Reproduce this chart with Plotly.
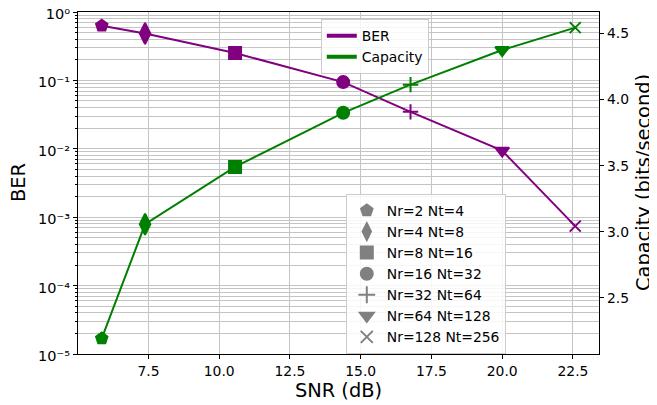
import numpy as np
import plotly.graph_objects as go

# ---- data ----
snr_db = [5.85, 7.38, 10.56, 14.38, 16.76, 20.0, 22.58]
ber = [0.63, 0.486, 0.251, 0.0944, 0.0347, 0.0094, 0.00074]
capacity = [2.192, 3.056, 3.49, 3.90, 4.113, 4.375, 4.545]
config_labels = ["Nr=2 Nt=4", "Nr=4 Nt=8", "Nr=8 Nt=16", "Nr=16 Nt=32",
                 "Nr=32 Nt=64", "Nr=64 Nt=128", "Nr=128 Nt=256"]
symbols = ["pentagon", "diamond-tall", "square", "circle",
           "cross-thin", "triangle-down", "x-thin"]
x_ticks = [7.5, 10.0, 12.5, 15.0, 17.5, 20.0, 22.5]
ber_major = [1e-5, 1e-4, 1e-3, 1e-2, 1e-1, 1e0]
ber_major_text = ["10⁻⁵", "10⁻⁴", "10⁻³", "10⁻²", "10⁻¹", "10⁰"]
cap_ticks = [2.5, 3.0, 3.5, 4.0, 4.5]

PURPLE = "#800080"
GREEN = "#008000"
GRAY = "#808080"
FONT = "DejaVu Sans"
GRID = "#c4c4c4"

minor_vals = [k * 10.0 ** e for e in range(-5, 0) for k in range(2, 10)]

thin = {"cross-thin", "x-thin"}
sizes = [12 if s not in thin else 11 for s in symbols]
sizes[1] = 15

fig = go.Figure()

fig.add_trace(go.Scatter(
    x=snr_db, y=ber, mode="lines+markers", yaxis="y",
    line=dict(color=PURPLE, width=2),
    marker=dict(symbol=symbols, size=sizes, color=PURPLE, opacity=1,
                line=dict(color=PURPLE, width=2)),
    showlegend=False))

fig.add_trace(go.Scatter(
    x=snr_db, y=capacity, mode="lines+markers", yaxis="y2",
    line=dict(color=GREEN, width=2),
    marker=dict(symbol=symbols, size=sizes, color=GREEN, opacity=1,
                line=dict(color=GREEN, width=2)),
    showlegend=False))

# legend 1: series lines
fig.add_trace(go.Scatter(x=[None], y=[None], mode="lines", name="BER",
                         line=dict(color=PURPLE, width=4), legend="legend"))
fig.add_trace(go.Scatter(x=[None], y=[None], mode="lines", name="Capacity",
                         line=dict(color=GREEN, width=4), legend="legend"))

# legend 2: configurations
for lab, sym in zip(config_labels, symbols):
    fig.add_trace(go.Scatter(
        x=[None], y=[None], mode="markers", name=lab, legend="legend2",
        marker=dict(symbol=sym, size=12, color=GRAY,
                    line=dict(color=GRAY, width=2))))

# page body has an 8px default margin, so the figure is offset by 8px
fig.update_layout(
    width=649, height=397,
    margin=dict(l=70, r=58, t=4, b=51, autoexpand=False),
    paper_bgcolor="white", plot_bgcolor="white",
    font=dict(family=FONT, size=13.9, color="black"),
    xaxis=dict(
        range=[5.01, 23.42], tickvals=x_ticks, tickformat=".1f",
        showgrid=True, gridcolor=GRID, gridwidth=1,
        showline=True, linecolor="black", linewidth=1.2, mirror=True,
        ticks="outside", ticklen=4, tickcolor="black",
        tickfont=dict(size=13.9), automargin=False,
        ticklabeloverflow="allow",
        title=dict(text="SNR (dB)", font=dict(size=19.4), standoff=4),
        zeroline=False),
    yaxis=dict(
        type="log", range=[-5, 0], tickvals=ber_major, ticktext=ber_major_text,
        showgrid=True, gridcolor=GRID, gridwidth=1,
        minor=dict(tickvals=minor_vals, ticks="outside", ticklen=2,
                   tickcolor="black", showgrid=True, gridcolor=GRID,
                   gridwidth=1),
        showline=True, linecolor="black", linewidth=1.2,
        ticks="outside", ticklen=4, tickcolor="black",
        tickfont=dict(size=14.5), automargin=False,
        ticklabeloverflow="allow", ticklabelshift=2,
        zeroline=False),
    yaxis2=dict(
        overlaying="y", side="right", range=[2.074, 4.663],
        tickvals=cap_ticks, tickformat=".1f", showgrid=False,
        showline=True, linecolor="black", linewidth=1.2,
        ticks="outside", ticklen=4, tickcolor="black",
        tickfont=dict(size=13.9), automargin=False,
        ticklabeloverflow="allow",
        zeroline=False),
    legend=dict(
        x=0.466, y=0.979, xanchor="left", yanchor="top",
        bgcolor="rgba(255,255,255,0.85)", bordercolor="#cccccc", borderwidth=1,
        font=dict(size=13.9), tracegroupgap=0),
    legend2=dict(
        x=0.514, y=0.468, xanchor="left", yanchor="top",
        bgcolor="rgba(255,255,255,0.85)", bordercolor="#cccccc", borderwidth=1,
        font=dict(size=13.9), tracegroupgap=0),
    annotations=[
        dict(text="BER", xref="paper", yref="paper", x=-0.115, y=0.5,
             xanchor="center", yanchor="middle", textangle=-90,
             showarrow=False, font=dict(size=19.4)),
        dict(text="Capacity (bits/second)", xref="paper", yref="paper",
             x=1.0845, y=0.5, xanchor="center", yanchor="middle",
             textangle=-90, showarrow=False, font=dict(size=19.4)),
    ],
)

fig.write_html("out.html")
